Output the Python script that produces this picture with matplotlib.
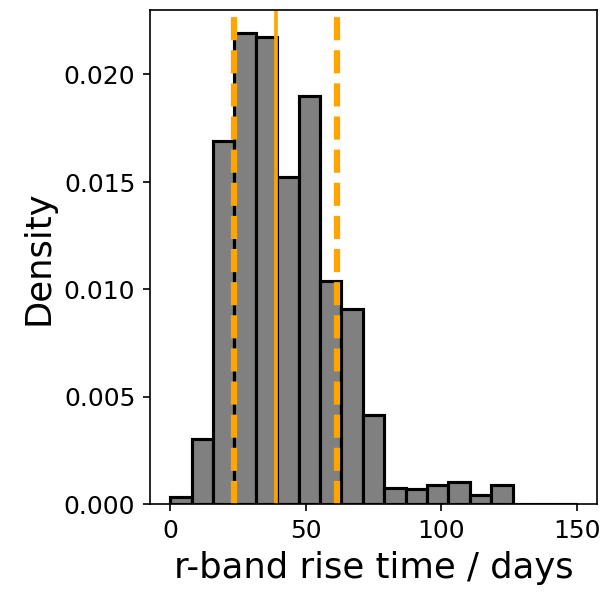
import numpy as np
import matplotlib
matplotlib.use('Agg')
import matplotlib.pyplot as plt

# ── Histogram data (density per bin, 19 bins from 0 to 150 days) ──
bin_lo = 0
bin_hi = 150
n_bins = 19
density = [0.00033, 0.00304, 0.01691, 0.02191, 0.02175, 0.01521, 0.01899,
           0.01040, 0.00910, 0.00414, 0.00076, 0.00070, 0.00091, 0.00104,
           0.00045, 0.00091, 0.0, 0.0, 0.0]

# percentile / median markers
lower_q = 23.6
median = 39.1
upper_q = 61.7

ORANGE = 'orange'

edges = np.linspace(bin_lo, bin_hi, n_bins + 1)

fig = plt.figure(figsize=(4.08, 3.947), dpi=150)
ax = fig.add_axes([0.245, 0.148, 0.7305, 0.835])

ax.bar(edges[:-1], density, width=np.diff(edges), align='edge',
       color='grey', edgecolor='black', linewidth=1.5)

ax.axvline(lower_q, color=ORANGE, ls='--', lw=3)
ax.axvline(median, color=ORANGE, ls='-', lw=1.75)
ax.axvline(upper_q, color=ORANGE, ls='--', lw=3)

ax.set_xlim(-7.5, 157.5)
ax.set_ylim(0, 0.0230)
ax.set_yticks([0.0, 0.005, 0.010, 0.015, 0.020])
ax.set_xticks([0, 50, 100, 150])
ax.tick_params(labelsize=12)
ax.set_xlabel('r-band rise time / days', fontsize=17)
ax.set_ylabel('Density', fontsize=17)

plt.savefig('out.png', dpi=150, facecolor='white')
